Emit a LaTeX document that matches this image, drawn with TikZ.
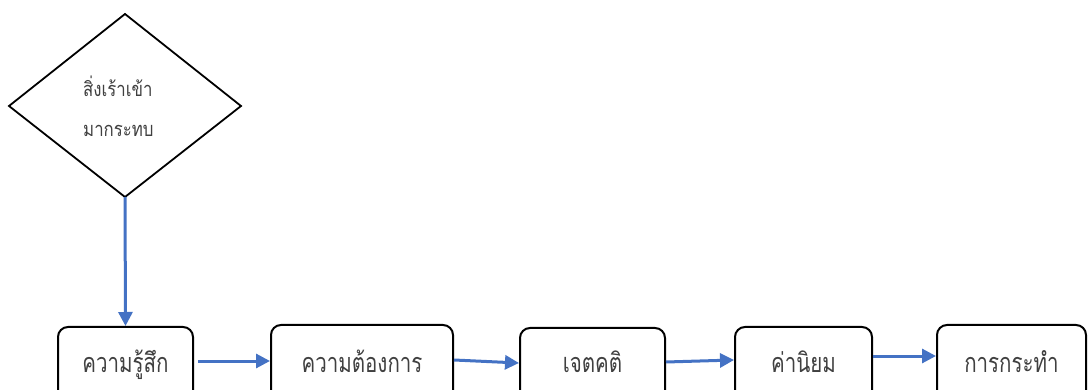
\documentclass[tikz,border=0pt]{standalone}
\usepackage{fontspec}
\newfontfamily\thaifont[Script=Thai,FakeStretch=0.76]{Loma}
\newfontfamily\thaismall[Script=Thai,FakeStretch=0.84]{Loma}
\usetikzlibrary{arrows.meta,shapes.geometric}
\definecolor{arrowblue}{HTML}{4472C4}
\definecolor{txt}{HTML}{404040}
\tikzset{
  box/.style={draw=black, line width=2pt, rounded corners=10pt, fill=white, inner sep=0pt,
    text height=17pt, text depth=0pt, font=\thaifont\fontsize{27}{30}\selectfont, text=txt},
  dtext/.style={font=\thaismall\fontsize{20}{22}\selectfont, text=txt, anchor=base west, inner sep=0pt},
  flow/.style={draw=arrowblue, line width=3pt, -{Triangle[length=14pt,width=14pt]}},
}
\begin{document}
\begin{tikzpicture}[x=1pt,y=-1pt]
\useasboundingbox (0,0) rectangle (1088,390);
\clip (0,0) rectangle (1088,390);
\fill[white] (0,0) rectangle (1088,390);
% diamond
\draw[line width=1.8pt] (125,14) coordinate (dt) -- (241,106) -- (125,197) coordinate (db) -- (9,106) -- cycle;
\node[dtext] (t1) at (83,97) {สิ่งเร้าเข้า};
\node[dtext] (t2) at (83,137) {มากระทบ};
% boxes
\node[box, minimum width=135pt, minimum height=75pt] (b1) at (125.5,364.5) {ความรู้สึก};
\node[box, minimum width=182pt, minimum height=79pt] (b2) at (362,364.5) {ความต้องการ};
\node[box, minimum width=145pt, minimum height=73pt] (b3) at (592.5,364.5) {เจตคติ};
\node[box, minimum width=137pt, minimum height=75pt] (b4) at (803.5,364.5) {ค่านิยม};
\node[box, minimum width=149pt, minimum height=79pt] (b5) at (1011.5,364.5) {การกระทำ};
% connectors
\coordinate (a1s) at (198,361);
\coordinate (a2s) at (454,360);
\draw[flow] (db) -- (b1.north);
\draw[flow] (a1s) -- (b2.west |- 0,361);
\draw[flow] (a2s) -- (b3.west |- 0,363);
\draw[flow] (b3.east |- 0,362) -- (b4.west |- 0,360);
\draw[flow] (b4.east |- 0,356) -- (b5.west |- 0,356);
\end{tikzpicture}
\end{document}
